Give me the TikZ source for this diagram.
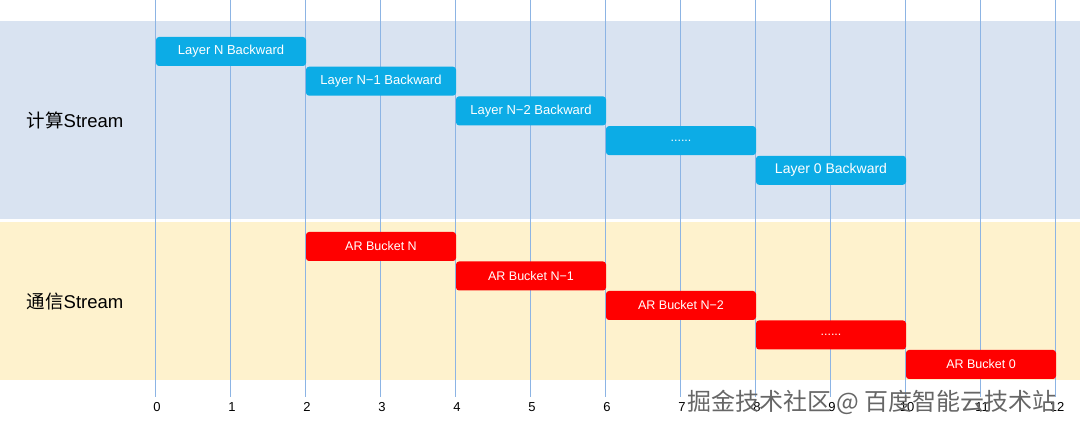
\documentclass[tikz,border=0pt]{standalone}
\usepackage{fontspec}
\setmainfont{Liberation Sans}
\newfontfamily\cjkfont{Noto Sans CJK SC}
\usepackage{tikz}
\usetikzlibrary{positioning}

\definecolor{compblue}{RGB}{12,172,230}
\definecolor{commred}{RGB}{255,0,0}
\definecolor{compband}{RGB}{217,227,241}
\definecolor{commband}{RGB}{254,242,205}
\definecolor{gridline}{RGB}{140,180,228}

\begin{document}
\begin{tikzpicture}[x=1pt, y=1pt,
        compbox/.style={fill=compblue, text=white, rounded corners=3pt, inner sep=0pt, outer sep=0pt,
            minimum width=150pt, minimum height=29pt, font=\fontsize{13}{15}\selectfont},
        commbox/.style={fill=commred, text=white, rounded corners=3pt, inner sep=0pt, outer sep=0pt,
            minimum width=150pt, minimum height=29pt, font=\fontsize{12.5}{15}\selectfont},
        dots/.style={font=\fontsize{12.5}{15}\selectfont},
        lane/.style={font=\fontsize{18.5}{20}\selectfont},
        tick/.style={font=\fontsize{13}{15}\selectfont}]
        \useasboundingbox (0,0) rectangle (1080,427);
        % lanes
        \fill[compband] (0,208) rectangle (1080,406);
        \fill[commband] (0,47) rectangle (1080,205);
        \foreach \i in {0,...,12} {
            \coordinate (t\i) at (155.5+75*\i, 427);
            \coordinate (b\i) at (155.5+75*\i, 30);
            \draw[gridline, line width=0.8pt] (t\i) -- (b\i);
            \node[tick] (n\i) at (157+75*\i, 20) {\i};
        }
        \node[lane] (comp) at (75,307) {{\cjkfont 计算}Stream};
        \node[lane] (comm) at (75,125) {{\cjkfont 通信}Stream};
        % compute stream
        \node[compbox, anchor=north west] (c1) at (156,390) {Layer N Backward};
        \node[compbox, below right=0.7pt and 0pt of c1] (c2) {Layer N−1 Backward};
        \node[compbox, below right=0.7pt and 0pt of c2] (c3) {Layer N−2 Backward};
        \node[compbox, below right=0.7pt and 0pt of c3, dots] (c4) {......};
        \node[compbox, below right=0.7pt and 0pt of c4, font=\fontsize{14}{16}\selectfont] (c5) {Layer 0 Backward};
        % communication stream
        \node[commbox, anchor=north west] (r1) at (306,195) {AR Bucket N};
        \node[commbox, below right=0.5pt and 0pt of r1] (r2) {AR Bucket N−1};
        \node[commbox, below right=0.5pt and 0pt of r2] (r3) {AR Bucket N−2};
        \node[commbox, below right=0.5pt and 0pt of r3, dots] (r4) {......};
        \node[commbox, below right=0.5pt and 0pt of r4] (r5) {AR Bucket 0};
        \node[font=\cjkfont\fontsize{24}{26}\selectfont, text=black!60] (wm) at (872,25) {掘金技术社区 @ 百度智能云技术站};
\end{tikzpicture}
\end{document}
